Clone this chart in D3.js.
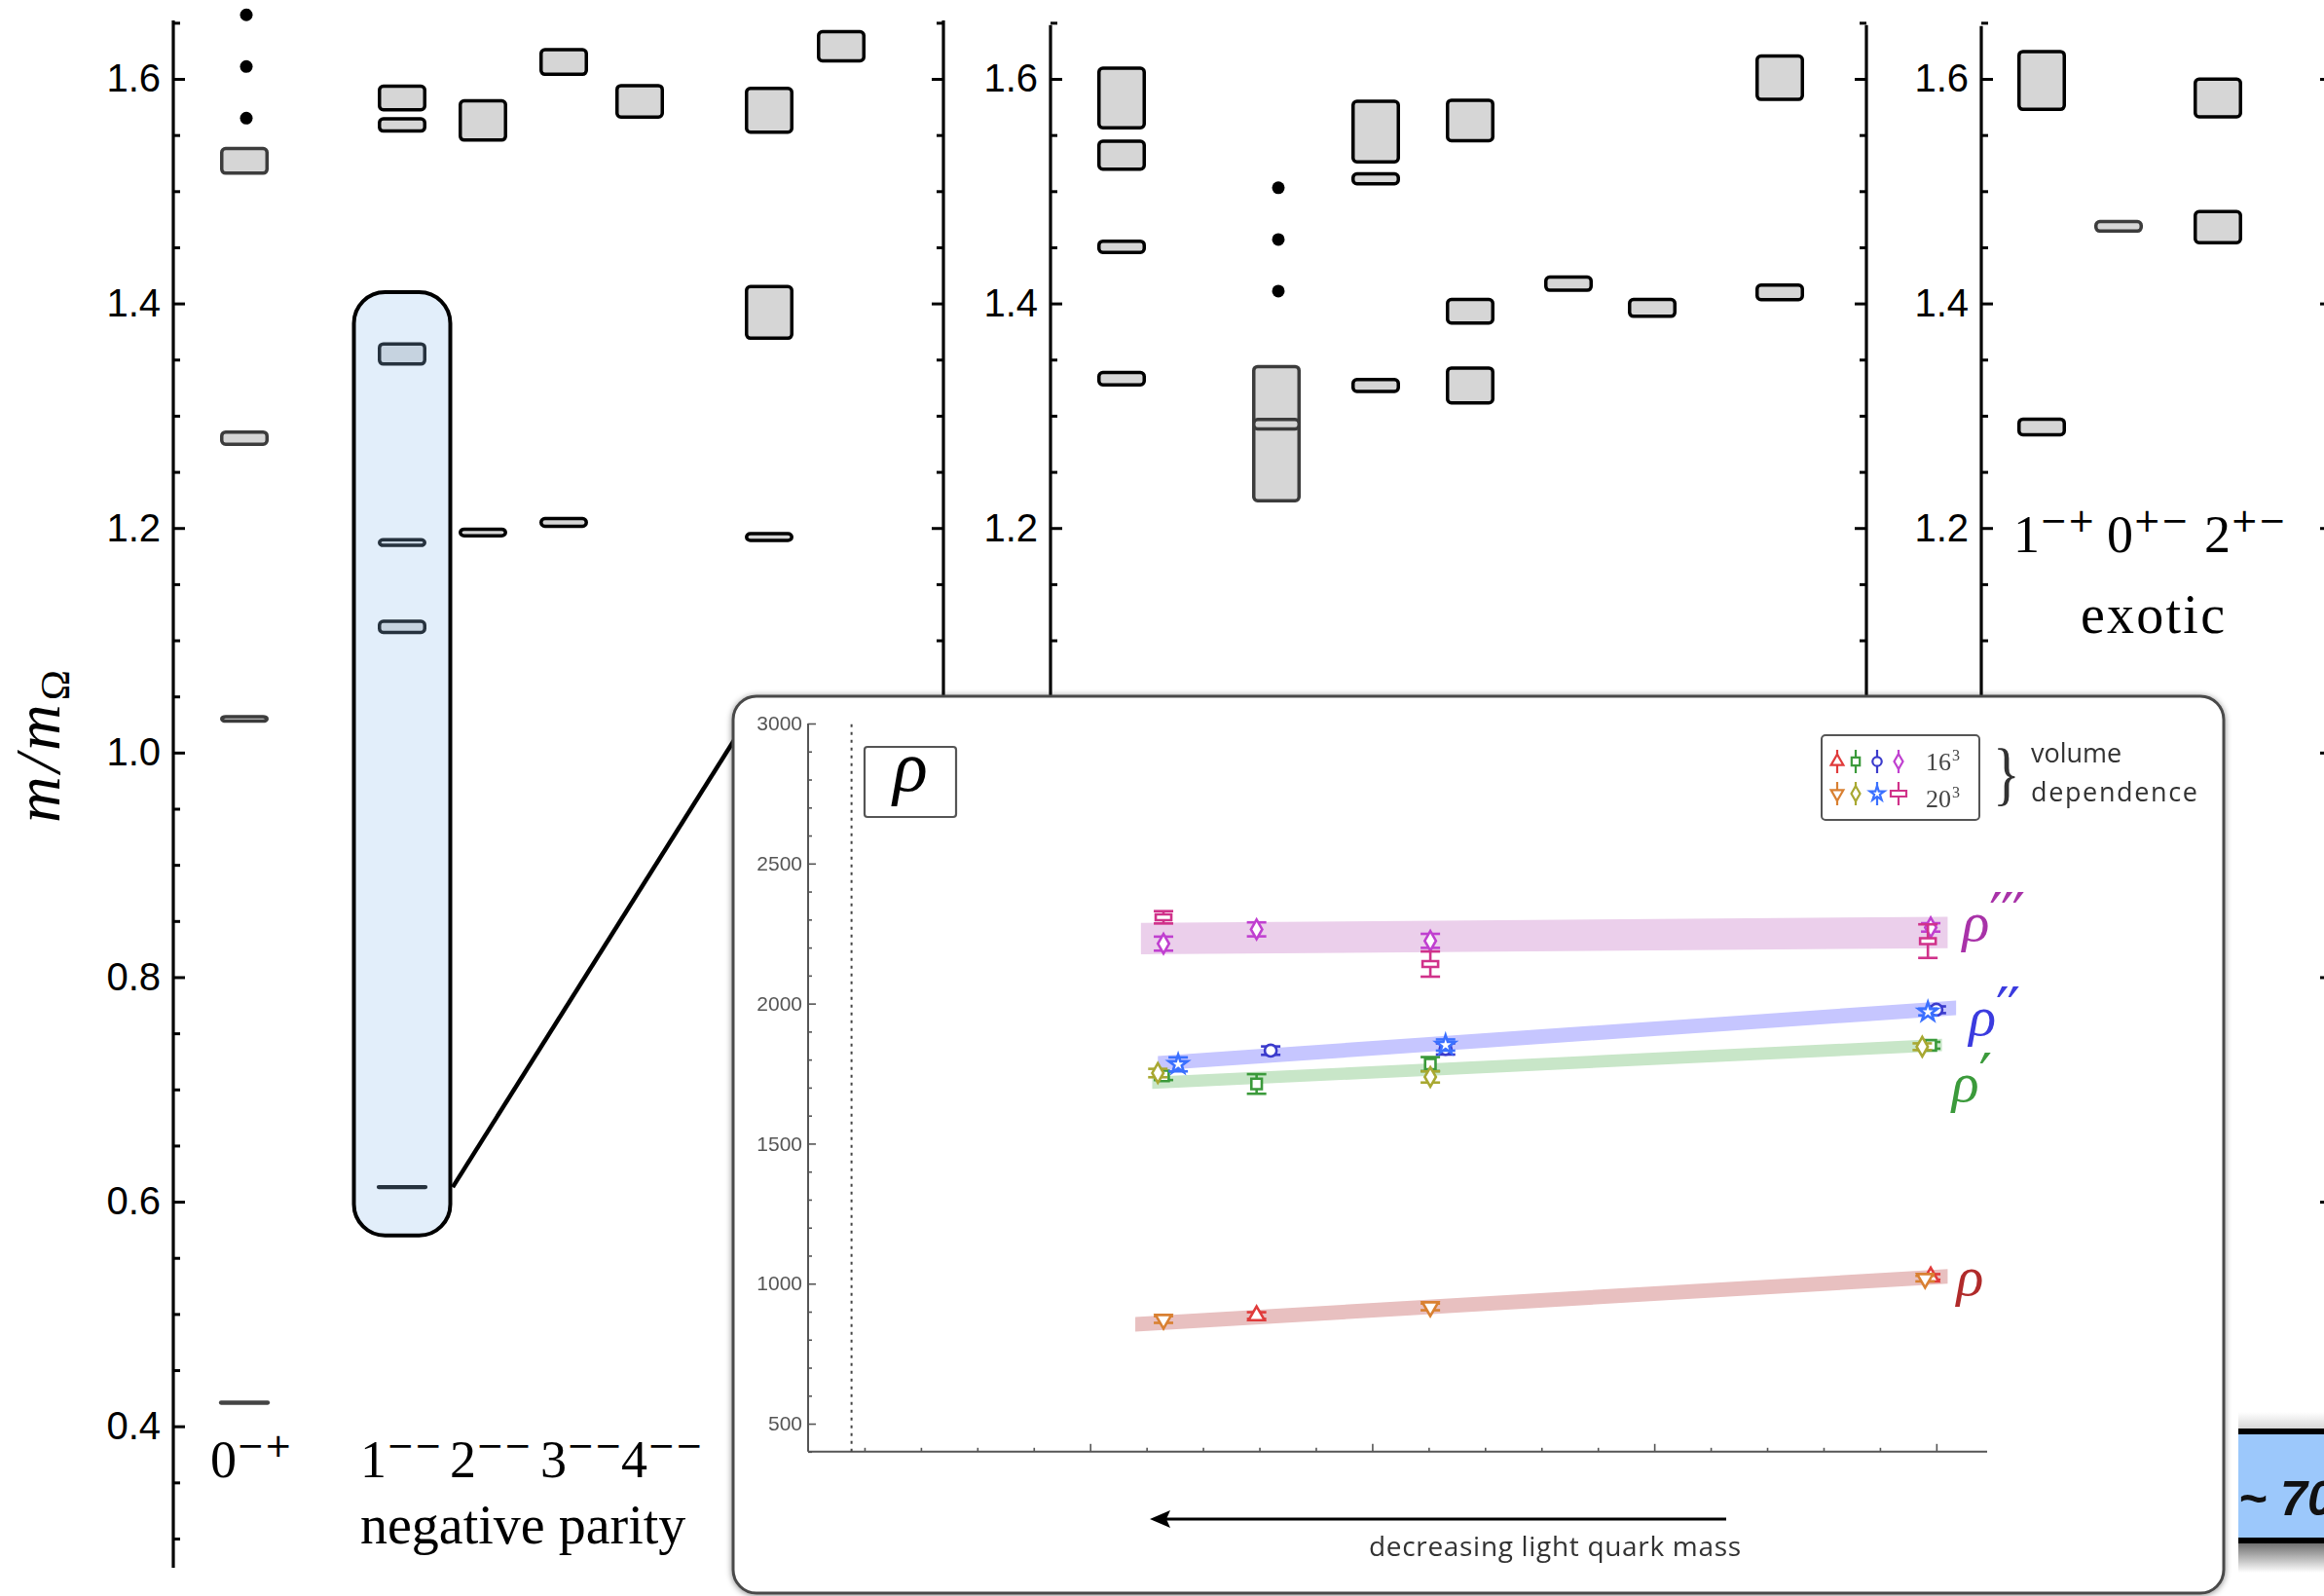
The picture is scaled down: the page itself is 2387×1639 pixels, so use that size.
<!DOCTYPE html>
<html>
<head>
<meta charset="utf-8">
<script src="https://cdn.jsdelivr.net/npm/d3@7"></script>
<style>
body { margin: 0; background: #fff; }
svg { display: block; }
</style>
</head>
<body>
<div id="chart"></div>
<script>
// ---------- spectrum data, m / m_Omega ----------
var negCats = ["0-+", "1--", "2--", "3--", "4--", "2-+", "3-+"];
var posCats = ["0++", "1+-", "1++", "2++", "3+-", "3++", "4++"];
var exoCats = ["1-+", "0+-", "2+-"];

// [channel, mass, band height]   height 0 = plain line
var negLevels = [
  ["0-+", 0.421, 0], ["0-+", 1.030, 0.007], ["0-+", 1.280, 0.014], ["0-+", 1.527, 0.025],
  ["1--", 0.613, 0], ["1--", 1.112, 0.013], ["1--", 1.187, 0.008], ["1--", 1.355, 0.021],
  ["1--", 1.559, 0.014], ["1--", 1.583, 0.024],
  ["2--", 1.196, 0.009], ["2--", 1.563, 0.038],
  ["3--", 1.205, 0.010], ["3--", 1.615, 0.025],
  ["4--", 1.580, 0.031],
  ["2-+", 1.192, 0.009], ["2-+", 1.392, 0.049], ["2-+", 1.572, 0.042],
  ["3-+", 1.629, 0.029]
];
var posLevels = [
  ["0++", 1.333, 0.014], ["0++", 1.4505, 0.013], ["0++", 1.532, 0.028], ["0++", 1.583, 0.056],
  ["1+-", 1.284, 0.1226], ["1+-", 1.2925, 0.0116],
  ["1++", 1.327, 0.0136], ["1++", 1.511, 0.012], ["1++", 1.553, 0.057],
  ["2++", 1.327, 0.034], ["2++", 1.393, 0.024], ["2++", 1.563, 0.039],
  ["3+-", 1.4176, 0.0148],
  ["3++", 1.396, 0.018],
  ["4++", 1.4098, 0.016], ["4++", 1.601, 0.0416]
];
var exoLevels = [
  ["1-+", 1.290, 0.017], ["1-+", 1.5986, 0.0546],
  ["0+-", 1.4687, 0.0116],
  ["2+-", 1.468, 0.0307], ["2+-", 1.583, 0.0367]
];

// dots = more states further up
var negDots = [["0-+", 1.565], ["0-+", 1.611], ["0-+", 1.657]];
var posDots = [["1+-", 1.411], ["1+-", 1.457], ["1+-", 1.503]];

// the zoomed 1-- region
var zoomChannel = "1--";
var zoomRange = [0.57, 1.41];
var zoomLevel = 0.613;

var majorTicks = [0.4, 0.6, 0.8, 1.0, 1.2, 1.4, 1.6];
var negLabels = [["0", "−+"], ["1", "−−"], ["2", "−−"], ["3", "−−"], ["4", "−−"]];
var exoLabels = [["1", "−+"], ["0", "+−"], ["2", "+−"]];

// ---------- inset data, mass in MeV vs light quark mass ----------
var insetTicks = [500, 1000, 1500, 2000, 2500, 3000];
var stateNames = ["ρ", "ρ", "ρ", "ρ"];
var statePrimes = ["", "′", "′′", "′′′"];

// fit bands [x, low, high]
var bandRho = [[5.8, 829, 881], [20.2, 1000, 1052]];
var bandRho1 = [[6.1, 1695, 1739], [20.1, 1830, 1874]];
var bandRho2 = [[6.2, 1761, 1813], [20.35, 1959, 2011]];
var bandRho3 = [[5.9, 2176, 2288], [20.2, 2198, 2310]];

// points [x, mass, error]
var rho16 = [[7.95, 886, 12], [19.9, 1024, 10]];
var rho20 = [[6.3, 872, 12], [11.03, 917, 12], [19.8, 1018, 10]];
var rho1_16 = [[6.3, 1742, 15], [7.95, 1713, 35], [11.03, 1784, 25], [19.9, 1851, 12]];
var rho1_20 = [[6.2, 1752, 15], [11.03, 1738, 20], [19.75, 1846, 12]];
var rho2_16 = [[8.2, 1832, 15], [11.3, 1838, 20], [20.0, 1978, 12]];
var rho2_20 = [[6.56, 1783, 25], [11.3, 1852, 20], [19.85, 1970, 12]];
var rho3_16 = [[6.3, 2214, 25], [7.95, 2265, 25], [11.03, 2224, 25], [19.9, 2272, 15]];
var rho3_20 = [[6.3, 2308, 22], [11.03, 2141, 45], [19.85, 2223, 60]];

var volumes = ["16", "20"];

// ---------- setup ----------
var svgWidth = 2387, svgHeight = 1639;

var svg = d3.select("#chart").append("svg")
  .attr("width", svgWidth)
  .attr("height", svgHeight);

svg.append("rect").attr("width", svgWidth).attr("height", svgHeight).attr("fill", "#fff");

var defs = svg.append("defs");
var sh = defs.append("filter").attr("id", "shadow")
  .attr("x", "-3%").attr("y", "-3%").attr("width", "106%").attr("height", "106%");
sh.append("feDropShadow").attr("dx", 0).attr("dy", 1).attr("stdDeviation", 3)
  .attr("flood-color", "#000").attr("flood-opacity", 0.45);
defs.append("filter").attr("id", "soft")
  .append("feGaussianBlur").attr("stdDeviation", 0.6);
var fade = defs.append("linearGradient").attr("id", "fade")
  .attr("x1", 0).attr("y1", 0).attr("x2", 0).attr("y2", 1);
fade.append("stop").attr("offset", "0%").attr("stop-color", "#707070");
fade.append("stop").attr("offset", "100%").attr("stop-color", "#fff");
var fadeUp = defs.append("linearGradient").attr("id", "fadeUp")
  .attr("x1", 0).attr("y1", 0).attr("x2", 0).attr("y2", 1);
fadeUp.append("stop").attr("offset", "0%").attr("stop-color", "#fff");
fadeUp.append("stop").attr("offset", "100%").attr("stop-color", "#d8d8d8");

var serif = "'Liberation Serif', 'Times New Roman', serif";
var sans = "'Liberation Sans', Arial, sans-serif";

// main y scale (shared by the three panels)
var yScale = d3.scaleLinear().domain([0.3, 1.6]).range([1580, 81]);

// column centres
var negX = d3.scaleOrdinal().domain(negCats).range([251, 413, 496, 579, 657, 790, 864]);
var posX = d3.scaleOrdinal().domain(posCats).range([1152, 1311, 1413, 1510, 1611, 1697, 1828]);
var exoX = d3.scaleOrdinal().domain(exoCats).range([2097, 2176, 2278]);

var colW = 50, sw = 3.5;
var grayCats = ["0-+", "1+-", "0+-"];

// ---------- axes ----------
function yAxis(x, topVal, side, withLabels) {
  var g = svg.append("g").attr("transform", "translate(" + x + ",0)");
  var minorVals = d3.range(6, 34).map(i => i * 0.05)
    .filter(v => Math.abs(v * 5 - Math.round(v * 5)) > 1e-6);
  var mk = side == "left" ? d3.axisLeft : d3.axisRight;

  g.append("g").call(mk(yScale).tickValues(minorVals)
    .tickSizeInner(-7).tickSizeOuter(0).tickFormat(""));
  g.append("g").call(mk(yScale).tickValues(majorTicks)
    .tickSizeInner(-12).tickSizeOuter(0).tickPadding(13)
    .tickFormat(withLabels ? d3.format(".1f") : ""));

  g.selectAll(".domain").remove();
  g.selectAll(".tick line").attr("stroke", "#000").attr("stroke-width", 3);
  g.selectAll(".tick text")
    .attr("fill", "#000")
    .attr("font-family", sans)
    .attr("font-size", 40);
  g.append("line")
    .attr("y1", yScale(0.274)).attr("y2", yScale(topVal))
    .attr("stroke", "#000").attr("stroke-width", 3.2);
}

yAxis(178, 1.652, "left", true);
yAxis(969, 1.652, "right", false);
yAxis(1079, 1.648, "left", true);
yAxis(1917, 1.648, "right", false);
yAxis(2035, 1.647, "left", true);
yAxis(2395, 1.647, "right", false);

// y label
var ylab = svg.append("text")
  .attr("transform", "translate(61,845) rotate(-90)")
  .attr("font-family", serif)
  .attr("font-size", 66)
  .attr("letter-spacing", 4);
ylab.append("tspan").attr("font-style", "italic").text("m/m");
ylab.append("tspan").attr("font-size", 42).attr("dy", 10).text("Ω");

// ---------- zoom highlight ----------
svg.append("rect")
  .attr("x", negX(zoomChannel) - 49.5)
  .attr("y", yScale(zoomRange[1]))
  .attr("width", 99)
  .attr("height", yScale(zoomRange[0]) - yScale(zoomRange[1]))
  .attr("rx", 32)
  .attr("fill", "#e2eefa")
  .attr("stroke", "#000")
  .attr("stroke-width", 4);

function inZoom(d) {
  return d[0] == zoomChannel && d[1] > zoomRange[0] && d[1] < zoomRange[1];
}

// ---------- levels ----------
function drawColumns(levels, dots, xs) {
  var g = svg.append("g");
  var boxes = levels.filter(d => d[2] > 0);
  var lines = levels.filter(d => d[2] == 0);

  g.selectAll("rect").data(boxes).join("rect")
    .attr("x", d => xs(d[0]) - colW / 2 + sw / 2)
    .attr("y", d => yScale(d[1] + d[2] / 2) + sw / 2)
    .attr("width", colW - sw)
    .attr("height", d => Math.max(yScale(d[1] - d[2] / 2) - yScale(d[1] + d[2] / 2) - sw, 3))
    .attr("rx", 4)
    .attr("fill", d => inZoom(d) ? "#c6d3e0" : "#d6d6d6")
    .attr("stroke", d => inZoom(d) ? "#26323e" : (grayCats.indexOf(d[0]) >= 0 ? "#3c3c3c" : "#000"))
    .attr("stroke-width", sw);

  g.selectAll("line").data(lines).join("line")
    .attr("x1", d => xs(d[0]) - colW / 2 + 1)
    .attr("x2", d => xs(d[0]) + colW / 2 - 1)
    .attr("y1", d => yScale(d[1]))
    .attr("y2", d => yScale(d[1]))
    .attr("stroke", d => inZoom(d) ? "#26323e" : "#444")
    .attr("stroke-width", 4.3)
    .attr("stroke-linecap", "round");

  g.selectAll("circle").data(dots).join("circle")
    .attr("cx", d => xs(d[0]) + 2)
    .attr("cy", d => yScale(d[1]))
    .attr("r", 6.5)
    .attr("fill", "#000");
}

drawColumns(negLevels, negDots, negX);
drawColumns(posLevels, posDots, posX);
drawColumns(exoLevels, [], exoX);

// ---------- column labels ----------
function drawLabels(labels, xs, baseline) {
  labels.forEach(function(l, i) {
    var t = svg.append("text")
      .attr("x", xs[i]).attr("y", baseline)
      .attr("font-family", serif).attr("font-size", 54);
    t.append("tspan").text(l[0]);
    t.append("tspan").attr("font-family", "'DejaVu Sans', sans-serif")
      .attr("font-size", 34).attr("dy", -21).text(l[1]);
  });
}
drawLabels(negLabels, [216, 370, 462, 555, 638], 1517);
drawLabels(exoLabels, [2068, 2164, 2264], 567);

svg.append("text").attr("x", 370).attr("y", 1585)
  .attr("font-family", serif).attr("font-size", 56)
  .text("negative parity");
svg.append("text").attr("x", 2137).attr("y", 650)
  .attr("font-family", serif).attr("font-size", 56)
  .attr("textLength", 148)
  .text("exotic");

// ---------- inset ----------
var inset = {x: 753, y: 715, w: 1531, h: 921};

// connector from the zoomed level to the inset
svg.append("line")
  .attr("x1", negX(zoomChannel) + 52).attr("y1", yScale(zoomLevel))
  .attr("x2", inset.x + 3).attr("y2", inset.y + 42)
  .attr("stroke", "#000").attr("stroke-width", 4.5);

svg.append("rect")
  .attr("x", inset.x).attr("y", inset.y)
  .attr("width", inset.w).attr("height", inset.h)
  .attr("rx", 24)
  .attr("fill", "#fff")
  .attr("stroke", "#4a4a4a").attr("stroke-width", 3)
  .attr("filter", "url(#shadow)");

var inner = svg.append("g").attr("filter", "url(#soft)");

var xIn = d3.scaleLinear().domain([0, 20.9]).range([830, 2041]);
var yIn = d3.scaleLinear().domain([400, 3000]).range([1490.8, 743]);

// inset y axis
var gy = inner.append("g").attr("transform", "translate(830,0)");
gy.append("g").call(d3.axisLeft(yIn)
  .tickValues(d3.range(400, 3001, 100).filter(v => v % 500 != 0))
  .tickSizeInner(-4).tickSizeOuter(0).tickFormat(""));
gy.append("g").call(d3.axisLeft(yIn)
  .tickValues(insetTicks).tickSizeInner(-8).tickSizeOuter(0).tickPadding(6)
  .tickFormat(d3.format("d")));
gy.selectAll(".domain").remove();
gy.selectAll(".tick line").attr("stroke", "#555").attr("stroke-width", 1.6);
gy.selectAll(".tick text")
  .attr("fill", "#555")
  .attr("font-family", sans)
  .attr("font-size", 21);
gy.append("line").attr("y1", yIn(400)).attr("y2", yIn(3000))
  .attr("stroke", "#555").attr("stroke-width", 2);

// inset x axis (no labels)
var gx = inner.append("g").attr("transform", "translate(0," + yIn(400) + ")");
gx.append("g").call(d3.axisBottom(xIn)
  .tickValues(d3.range(1, 21).filter(v => v % 5 != 0))
  .tickSizeInner(-4).tickSizeOuter(0).tickFormat(""));
gx.append("g").call(d3.axisBottom(xIn)
  .tickValues([5, 10, 15, 20]).tickSizeInner(-8).tickSizeOuter(0).tickFormat(""));
gx.selectAll(".domain").remove();
gx.selectAll(".tick line").attr("stroke", "#555").attr("stroke-width", 1.6);
gx.append("line").attr("x1", xIn(0)).attr("x2", xIn(20.9))
  .attr("stroke", "#555").attr("stroke-width", 2);

// dotted physical-point line
inner.append("line")
  .attr("x1", xIn(0.77)).attr("x2", xIn(0.77))
  .attr("y1", yIn(400)).attr("y2", yIn(3000))
  .attr("stroke", "#444").attr("stroke-width", 2)
  .attr("stroke-dasharray", "3,5");

// rho tag
inner.append("rect").attr("x", 888).attr("y", 767).attr("width", 94).attr("height", 72)
  .attr("rx", 3).attr("fill", "#fff").attr("stroke", "#555").attr("stroke-width", 2.2);
inner.append("text").attr("x", 935).attr("y", 812)
  .attr("text-anchor", "middle")
  .attr("font-family", serif).attr("font-style", "italic").attr("font-size", 74)
  .text("ρ");

// bands
var area = d3.area()
  .x(d => xIn(d[0]))
  .y0(d => yIn(d[1]))
  .y1(d => yIn(d[2]));

var bands = [bandRho, bandRho1, bandRho2, bandRho3];
var bandColors = ["#e8c0c0", "#c8e6c8", "#c6c6ff", "#ebcfeb"];
bands.forEach(function(b, i) {
  inner.append("path").datum(b).attr("d", area).attr("fill", bandColors[i]);
});

// points
var dashSym = { draw: function(ctx) { ctx.rect(-8, -3, 16, 6); } };
var series16 = [rho16, rho1_16, rho2_16, rho3_16];
var series20 = [rho20, rho1_20, rho2_20, rho3_20];
var colors16 = ["#e03a3a", "#3a9a3a", "#3a3acc", "#c040d0"];
var colors20 = ["#d98030", "#a8a830", "#3a70ff", "#d0308a"];
var syms16 = [d3.symbolTriangle, d3.symbolSquare, d3.symbolCircle, d3.symbolDiamond];
var syms20 = [d3.symbolTriangle, d3.symbolDiamond, d3.symbolStar, dashSym];
var rot20 = [180, 0, 0, 0];

function drawPoints(pts, color, sym, rot) {
  var g = inner.append("g")
    .attr("stroke", color).attr("stroke-width", 2.6).attr("fill", "none");
  g.selectAll("line.err").data(pts).join("line").attr("class", "err")
    .attr("x1", d => xIn(d[0])).attr("x2", d => xIn(d[0]))
    .attr("y1", d => yIn(d[1] - d[2])).attr("y2", d => yIn(d[1] + d[2]));
  g.selectAll("line.capt").data(pts).join("line").attr("class", "capt")
    .attr("x1", d => xIn(d[0]) - 10).attr("x2", d => xIn(d[0]) + 10)
    .attr("y1", d => yIn(d[1] + d[2])).attr("y2", d => yIn(d[1] + d[2]));
  g.selectAll("line.capb").data(pts).join("line").attr("class", "capb")
    .attr("x1", d => xIn(d[0]) - 10).attr("x2", d => xIn(d[0]) + 10)
    .attr("y1", d => yIn(d[1] - d[2])).attr("y2", d => yIn(d[1] - d[2]));
  g.selectAll("path").data(pts).join("path")
    .attr("d", d3.symbol(sym, 115))
    .attr("fill", "#fff")
    .attr("transform", d => "translate(" + xIn(d[0]) + "," + yIn(d[1]) + ") rotate(" + rot + ")");
}
series16.forEach((s, i) => drawPoints(s, colors16[i], syms16[i], 0));
series20.forEach((s, i) => drawPoints(s, colors20[i], syms20[i], rot20[i]));

// state labels at the band ends
var labelColors = ["#b02a2a", "#3a9a3a", "#3a3adf", "#a830a8"];
var labelDx = [9, 10, 13, 15];
var labelDy = [19, 58, 28, 8];
bands.forEach(function(b, i) {
  var end = b[b.length - 1];
  var t = inner.append("text")
    .attr("x", xIn(end[0]) + labelDx[i])
    .attr("y", yIn((end[1] + end[2]) / 2) + labelDy[i])
    .attr("fill", labelColors[i])
    .attr("font-family", serif).attr("font-style", "italic").attr("font-size", 58);
  t.append("tspan").text(stateNames[i]);
  t.append("tspan").attr("font-family", "'DejaVu Sans', sans-serif")
    .attr("font-style", "normal").attr("font-size", 60)
    .attr("letter-spacing", -2).attr("dy", -6).text(statePrimes[i]);
});

// legend
inner.append("rect").attr("x", 1871).attr("y", 755).attr("width", 162).attr("height", 87)
  .attr("rx", 4).attr("fill", "#fff").attr("stroke", "#555").attr("stroke-width", 2);
var legX = [1887, 1906, 1928, 1950];
[[colors16, syms16, [0, 0, 0, 0]], [colors20, syms20, rot20]].forEach(function(row, r) {
  var cy = r == 0 ? 782 : 815;
  row[0].forEach(function(c, i) {
    var g = inner.append("g").attr("stroke", c).attr("stroke-width", 2.2);
    g.append("line").attr("x1", legX[i]).attr("x2", legX[i])
      .attr("y1", cy - 12).attr("y2", cy + 12);
    g.append("path").attr("d", d3.symbol(row[1][i], 70))
      .attr("fill", "#fff")
      .attr("transform", "translate(" + legX[i] + "," + cy + ") rotate(" + row[2][i] + ")");
  });
  var t = inner.append("text").attr("x", 1978).attr("y", r == 0 ? 791 : 829)
    .attr("font-family", serif).attr("font-size", 26).attr("fill", "#444");
  t.append("tspan").text(volumes[r]);
  t.append("tspan").attr("font-size", 16).attr("dx", 1).attr("dy", -10).text("3");
});
inner.append("text")
  .attr("transform", "translate(2047,818) scale(0.8,1)")
  .attr("font-family", serif).attr("font-size", 72).attr("fill", "#333")
  .text("}");
inner.append("text").attr("x", 2086).attr("y", 783)
  .attr("font-family", "'Open Sans', sans-serif").attr("font-size", 27).attr("fill", "#333")
  .text("volume");
inner.append("text").attr("x", 2086).attr("y", 823)
  .attr("font-family", "'Open Sans', sans-serif").attr("font-size", 27).attr("fill", "#333")
  .attr("textLength", 171)
  .text("dependence");

// arrow
inner.append("line").attr("x1", 1773).attr("x2", 1196).attr("y1", 1560).attr("y2", 1560)
  .attr("stroke", "#000").attr("stroke-width", 3);
inner.append("path").attr("d", "M1181,1560 L1202,1551 L1198,1560 L1202,1569 Z").attr("fill", "#000");
inner.append("text").attr("x", 1406).attr("y", 1598)
  .attr("font-family", "'Open Sans', sans-serif").attr("font-size", 28).attr("fill", "#333")
  .attr("textLength", 382)
  .text("decreasing light quark mass");

// ---------- corner badge ----------
svg.append("rect").attr("x", 2299).attr("y", 1450).attr("width", 90).attr("height", 17)
  .attr("fill", "url(#fadeUp)");
svg.append("rect").attr("x", 2299).attr("y", 1467).attr("width", 90).attr("height", 118)
  .attr("fill", "#9cc8fb");
svg.append("rect").attr("x", 2299).attr("y", 1467).attr("width", 90).attr("height", 6).attr("fill", "#000");
svg.append("rect").attr("x", 2299).attr("y", 1579).attr("width", 90).attr("height", 6).attr("fill", "#000");
svg.append("rect").attr("x", 2299).attr("y", 1585).attr("width", 90).attr("height", 30)
  .attr("fill", "url(#fade)");
svg.append("text").attr("x", 2299).attr("y", 1556)
  .attr("font-family", sans).attr("font-weight", "bold").attr("font-style", "italic")
  .attr("font-size", 50).attr("fill", "#111")
  .text("~ 70");
</script>
</body>
</html>
